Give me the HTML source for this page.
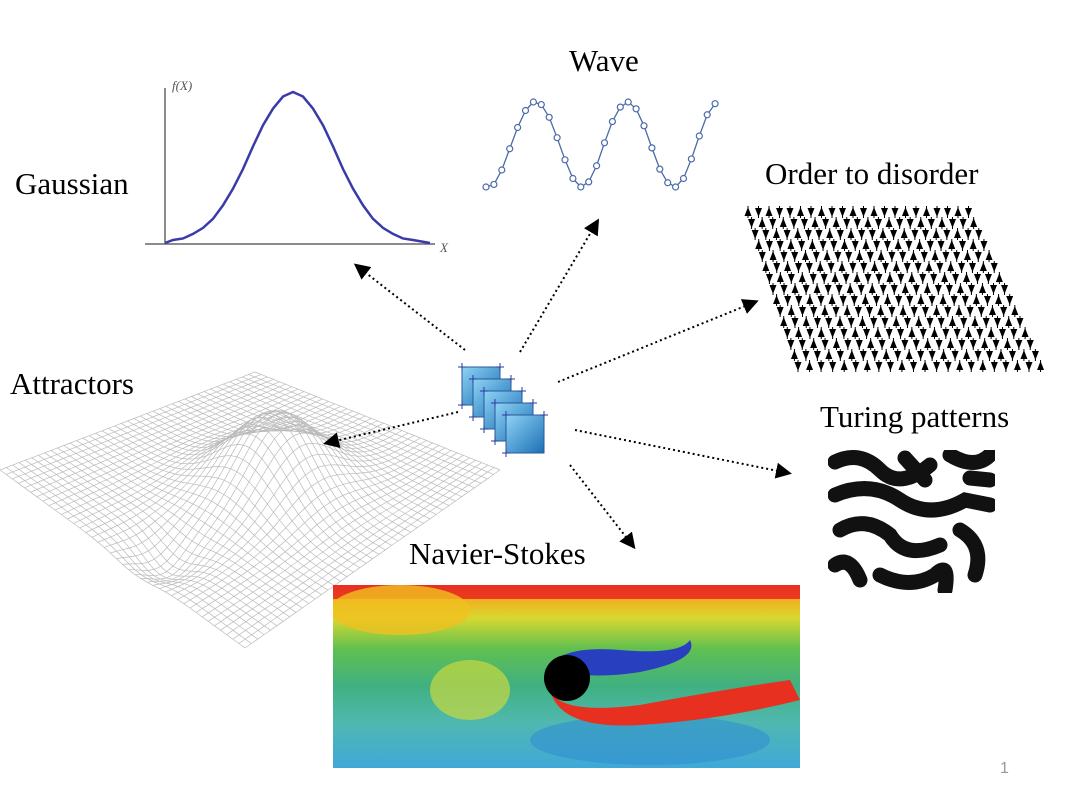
<!DOCTYPE html>
<html><head><meta charset="utf-8">
<style>
body{margin:0;background:#fff;width:1067px;height:800px;overflow:hidden;font-family:"Liberation Serif",serif;}
.lbl{position:absolute;font-size:31px;color:#000;white-space:nowrap;}
svg{position:absolute;left:0;top:0;}
</style></head>
<body>
<div class="lbl" style="left:15px;top:166px">Gaussian</div>
<div class="lbl" style="left:569px;top:43px">Wave</div>
<div class="lbl" style="left:765px;top:156px">Order to disorder</div>
<div class="lbl" style="left:10px;top:366px">Attractors</div>
<div class="lbl" style="left:820px;top:399px">Turing patterns</div>
<div class="lbl" style="left:409px;top:536px">Navier-Stokes</div>
<div class="lbl" style="left:1000px;top:760px;font-size:16px;color:#999;font-family:'Liberation Sans',sans-serif">1</div>
<svg id="s" width="1067" height="800">
<defs>
<marker id="ah" markerWidth="8" markerHeight="8" refX="6" refY="4" orient="auto"><path d="M0,0 L8,4 L0,8 z" fill="#000"/></marker>
<linearGradient id="cube" x1="0" y1="0" x2="1" y2="1"><stop offset="0" stop-color="#8fd3f5"/><stop offset="1" stop-color="#1a6fb5"/></linearGradient>
<linearGradient id="ns" x1="0" y1="0" x2="0" y2="1">
<stop offset="0" stop-color="#e83020"/><stop offset="0.08" stop-color="#f0b020"/><stop offset="0.18" stop-color="#d8d830"/><stop offset="0.35" stop-color="#60c050"/><stop offset="0.55" stop-color="#40b080"/><stop offset="0.75" stop-color="#50b8b0"/><stop offset="1" stop-color="#40a8d8"/></linearGradient>
<clipPath id="nsclip"><rect x="333" y="585" width="467" height="183"/></clipPath>
<clipPath id="tclip"><rect x="828" y="450" width="167" height="143"/></clipPath>
</defs>
<g id="gauss">
<line x1="145" y1="244" x2="435" y2="244" stroke="#666" stroke-width="1.5"/>
<line x1="165" y1="88" x2="165" y2="244" stroke="#666" stroke-width="1.5"/>
<text x="172" y="90" font-size="13" font-style="italic" fill="#555">f(X)</text>
<text x="440" y="252" font-size="13" font-style="italic" fill="#555">X</text>
</g>
<g id="wave"></g>
<g id="order"></g>
<g id="mesh"></g>
<g clip-path="url(#tclip)">
<rect x="828" y="450" width="167" height="143" fill="#fff"/>
<g fill="none" stroke="#111" stroke-width="15" stroke-linecap="round">
<path d="M835,462 Q860,450 880,470 T930,465"/><path d="M950,455 Q975,470 990,455"/>
<path d="M835,495 Q870,480 900,500 Q930,520 965,500 L990,505"/>
<path d="M840,530 Q865,515 890,535 Q905,560 940,545"/><path d="M960,530 Q985,545 975,575"/>
<path d="M835,565 Q850,555 860,580"/><path d="M880,575 Q910,590 935,575 Q950,560 945,590"/>
<path d="M905,458 L925,480"/><path d="M970,478 L990,480"/>
</g></g>
<g clip-path="url(#nsclip)">
<rect x="333" y="585" width="467" height="183" fill="url(#ns)"/>
<rect x="333" y="585" width="467" height="14" fill="#e83020" opacity="0.9"/>
<ellipse cx="400" cy="610" rx="70" ry="25" fill="#f0c020" opacity="0.8"/>
<ellipse cx="470" cy="690" rx="40" ry="30" fill="#c8d840" opacity="0.7"/>
<ellipse cx="650" cy="740" rx="120" ry="25" fill="#3090d0" opacity="0.6"/>
<path d="M545,670 Q560,645 620,650 Q680,655 690,640 Q700,660 640,672 Q590,680 545,670z" fill="#2840c0"/>
<path d="M550,690 Q560,715 640,705 Q720,690 790,680 L800,700 Q720,720 640,725 Q560,730 550,690z" fill="#e83020"/>
<circle cx="567" cy="678" r="23" fill="#000"/>
</g>
<g id="arrows" stroke="#000" stroke-width="2" stroke-dasharray="2,3" fill="none">
<line x1="465" y1="350" x2="357" y2="266" marker-end="url(#ah)"/>
<line x1="520" y1="352" x2="597" y2="222" marker-end="url(#ah)"/>
<line x1="558" y1="382" x2="755" y2="302" marker-end="url(#ah)"/>
<line x1="458" y1="412" x2="327" y2="443" marker-end="url(#ah)"/>
<line x1="575" y1="430" x2="788" y2="473" marker-end="url(#ah)"/>
<line x1="570" y1="465" x2="633" y2="546" marker-end="url(#ah)"/>
</g>
<g id="cubes"></g>
</svg>
<script>
const gaussX=[173,183,193,203,213,223,233,243,253,263,273,283,293,303,313,323,333,343,353,363,373,383,393,403,413];
const gaussY=[0.02,0.03,0.06,0.1,0.16,0.25,0.36,0.49,0.64,0.78,0.89,0.97,1.0,0.97,0.89,0.78,0.64,0.49,0.36,0.25,0.16,0.1,0.06,0.03,0.02];
const waveY=[0.0,0.03,0.2,0.45,0.7,0.9,1.0,0.97,0.82,0.58,0.32,0.1,0.0,0.06,0.25,0.52,0.77,0.94,1.0,0.92,0.72,0.46,0.21,0.05,0.0,0.1,0.33,0.6,0.85,0.98];
const NS="http://www.w3.org/2000/svg";
function mk(t,a,p){const e=document.createElementNS(NS,t);for(const k in a)e.setAttribute(k,a[k]);p.appendChild(e);return e;}
const gy=v=>243-v*151;
let d="M165,243 L"+gaussX.map((x,i)=>x+","+gy(gaussY[i])).join(" L")+" L430,243";
const gp=mk("path",{d:d,fill:"none",stroke:"#3a3aa8","stroke-width":2.5},document.getElementById("gauss"));


const wg=document.getElementById("wave");
const wx=i=>486+i*7.9, wy=v=>187-v*85;
const wl=mk("path",{d:"M"+waveY.map((v,i)=>wx(i)+","+wy(v)).join(" L"),fill:"none",stroke:"#4a6aa8","stroke-width":1.3},wg);


waveY.forEach((v,i)=>{const c=mk("circle",{cx:wx(i),cy:wy(v),r:3,fill:"#fff",stroke:"#4a6aa8","stroke-width":1.2},wg);

});
const og=document.getElementById("order");
const rows=15,cols=22;
for(let r=0;r<rows;r++)for(let c=0;c<cols;c++){
 const t=r/(rows-1);const x=748+t*50+c*10.5*(1+0.1*t), y=212+r*11;
 const up=((r*7+c*3)%5)<2;
 const p=up?`M${x},${y-5} L${x+3.5},${y+4} L${x-3.5},${y+4}z`:`M${x},${y+5} L${x+3.5},${y-4} L${x-3.5},${y-4}z`;
 mk("line",{x1:x,y1:y-6,x2:x,y2:y+6,stroke:"#000","stroke-width":1},og);
 mk("path",{d:p,fill:"#000"},og);
}
const mg=document.getElementById("mesh");
const L=[0,470],T=[255,372],R=[500,470],B=[245,648];
function P(u,v){
 const x=L[0]*(1-u)*(1-v)+T[0]*u*(1-v)+B[0]*(1-u)*v+R[0]*u*v;
 let y=L[1]*(1-u)*(1-v)+T[1]*u*(1-v)+B[1]*(1-u)*v+R[1]*u*v;
 const h=-75*Math.exp(-((u-0.55)**2+(v-0.55)**2)/0.035)+22*Math.exp(-((u-0.12)**2+(v-0.55)**2)/0.012);
 return [x,y+h];}
const N=40;
for(let i=0;i<=N;i++){let a="",b="";
 for(let j=0;j<=N;j++){const p=P(i/N,j/N),q=P(j/N,i/N);a+=(j?"L":"M")+p[0].toFixed(1)+","+p[1].toFixed(1);b+=(j?"L":"M")+q[0].toFixed(1)+","+q[1].toFixed(1);}
 mk("path",{d:a,fill:"none",stroke:"#bbb","stroke-width":0.7},mg);mk("path",{d:b,fill:"none",stroke:"#bbb","stroke-width":0.7},mg);}
const cg=document.getElementById("cubes");
for(let k=0;k<5;k++){const x=462+k*11,y=367+k*12;
 mk("rect",{x:x,y:y,width:38,height:38,fill:"url(#cube)",stroke:"#2a5a9a","stroke-width":1},cg);
 mk("path",{d:`M${x-4},${y} h8 M${x},${y-4} v8 M${x+34},${y} h8 M${x+38},${y-4} v8 M${x-4},${y+38} h8 M${x},${y+34} v8`,stroke:"#2a3a9a","stroke-width":1},cg);}
</script>
</body></html>
